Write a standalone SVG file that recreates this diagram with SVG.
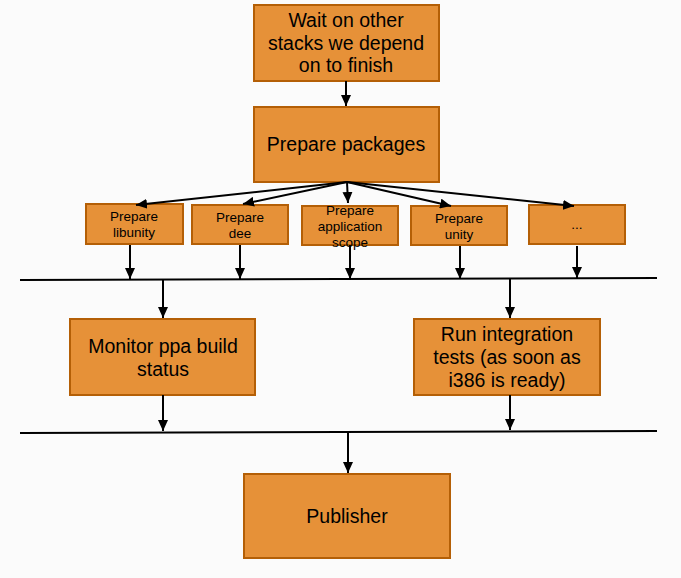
<svg xmlns="http://www.w3.org/2000/svg" width="681" height="578" viewBox="0 0 681 578">
<defs>
<marker id="ah" markerUnits="userSpaceOnUse" markerWidth="12" markerHeight="10" refX="11" refY="5" orient="auto">
<path d="M0,0 L11,5 L0,10 Z" fill="#000"/>
</marker>
<style>
.box{fill:#e69138;stroke:#b45f06;stroke-width:2}
.t{font-family:"Liberation Sans",Arial,sans-serif;fill:#000;text-anchor:middle}
.big{font-size:19.5px}
.sm{font-size:13.5px}
.c{stroke:#000;stroke-width:2;fill:none}
.a{stroke:#000;stroke-width:2;fill:none;marker-end:url(#ah)}
</style>
</defs>
<rect width="681" height="578" fill="#fbfbfb"/>
<g id="wait">
<rect class="box" x="254" y="5" width="185" height="76"/>
<text class="t big" x="346" y="27">Wait on other</text>
<text class="t big" x="346" y="50">stacks we depend</text>
<text class="t big" x="346" y="72">on to finish</text>
</g>
<g id="prepare-packages">
<rect class="box" x="254" y="107" width="185" height="75"/>
<text class="t big" x="346" y="151">Prepare packages</text>
</g>
<g id="prep-libunity">
<rect class="box" x="86" y="204" width="97" height="40"/>
<text class="t sm" x="134" y="221">Prepare</text>
<text class="t sm" x="134" y="237">libunity</text>
</g>
<g id="prep-dee">
<rect class="box" x="192" y="205" width="96" height="39"/>
<text class="t sm" x="240" y="222">Prepare</text>
<text class="t sm" x="240" y="238">dee</text>
</g>
<g id="prep-app-scope">
<rect class="box" x="302" y="206" width="96" height="39"/>
<text class="t sm" x="350" y="215">Prepare</text>
<text class="t sm" x="350" y="231">application</text>
<text class="t sm" x="350" y="247">scope</text>
</g>
<g id="prep-unity">
<rect class="box" x="411" y="206" width="96" height="39"/>
<text class="t sm" x="459" y="223">Prepare</text>
<text class="t sm" x="459" y="239">unity</text>
</g>
<g id="prep-more">
<rect class="box" x="529" y="205" width="96" height="39"/>
<text class="t sm" x="577" y="229">...</text>
</g>
<g id="monitor">
<rect class="box" x="70" y="319" width="185" height="76"/>
<text class="t big" x="163" y="353">Monitor ppa build</text>
<text class="t big" x="163" y="376">status</text>
</g>
<g id="integration">
<rect class="box" x="414" y="319" width="186" height="76"/>
<text class="t big" x="507" y="341">Run integration</text>
<text class="t big" x="507" y="364">tests (as soon as</text>
<text class="t big" x="507" y="387">i386 is ready)</text>
</g>
<g id="publisher">
<rect class="box" x="244" y="474" width="206" height="84"/>
<text class="t big" x="347" y="523">Publisher</text>
</g>
<g id="connectors">
<line class="a" x1="346" y1="81" x2="346" y2="106"/>
<line class="a" x1="347" y1="182" x2="136" y2="205"/>
<line class="a" x1="347" y1="182" x2="243" y2="204"/>
<line class="a" x1="347" y1="182" x2="348" y2="203"/>
<line class="a" x1="347" y1="182" x2="451" y2="206"/>
<line class="a" x1="347" y1="182" x2="574" y2="206"/>
<line class="a" x1="130" y1="245" x2="130" y2="279"/>
<line class="a" x1="240" y1="245" x2="240" y2="279"/>
<line class="a" x1="350" y1="245" x2="350" y2="279"/>
<line class="a" x1="460" y1="246" x2="460" y2="279"/>
<line class="a" x1="577" y1="246" x2="577" y2="278"/>
<line class="c" x1="20" y1="280" x2="657" y2="278"/>
<line class="a" x1="163" y1="280" x2="163" y2="318"/>
<line class="a" x1="510" y1="279" x2="510" y2="318"/>
<line class="a" x1="163" y1="395" x2="163" y2="431"/>
<line class="a" x1="510" y1="395" x2="510" y2="430"/>
<line class="c" x1="20" y1="433" x2="657" y2="431"/>
<line class="a" x1="348" y1="432" x2="348" y2="473"/>
</g>
</svg>
